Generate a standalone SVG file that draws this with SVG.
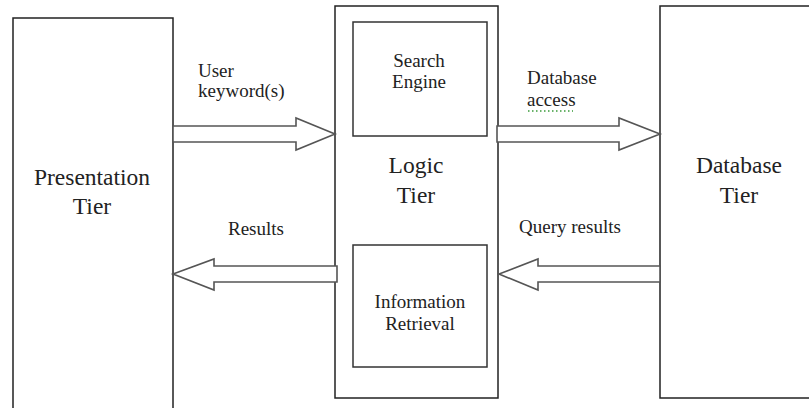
<svg xmlns="http://www.w3.org/2000/svg" width="809" height="408" viewBox="0 0 809 408">
<style>
.box{fill:#fff;stroke:#222;stroke-width:1.5}
.inner{fill:#fff;stroke:#333;stroke-width:1.5}
.arrow{fill:#fff;stroke:#555;stroke-width:1.6;stroke-linejoin:miter}
text{font-family:'Liberation Serif','DejaVu Serif',serif;fill:#222}
.big{font-size:23.5px;text-anchor:middle}
.sm{font-size:19px}
.smc{font-size:19px;text-anchor:middle}
</style>
<rect width="809" height="408" fill="#fff"/>
<g id="presentation">
<rect class="box" x="13" y="18" width="160" height="400"/>
<text class="big" x="92" y="185">Presentation</text>
<text class="big" x="92" y="214">Tier</text>
</g>
<g id="logic">
<rect class="box" x="335" y="6" width="163" height="392"/>
<text class="big" x="416" y="173">Logic</text>
<text class="big" x="416" y="203">Tier</text>
</g>
<g id="search-engine">
<rect class="inner" x="353" y="22" width="134" height="114"/>
<text class="smc" x="419" y="67">Search</text>
<text class="smc" x="419" y="88">Engine</text>
</g>
<g id="information-retrieval">
<rect class="inner" x="353" y="245" width="134" height="122"/>
<text class="smc" x="420" y="308">Information</text>
<text class="smc" x="420" y="330">Retrieval</text>
</g>
<g id="database">
<rect class="box" x="660" y="6" width="160" height="392"/>
<text class="big" x="739" y="173">Database</text>
<text class="big" x="739" y="203">Tier</text>
</g>
<g id="connectors">
<polygon class="arrow" points="173,126 296,126 296,118 335,134 296,150 296,142 173,142"/>
<polygon class="arrow" points="497,126 619,126 619,118 660,134 619,150 619,142 497,142"/>
<polygon class="arrow" points="337,266 214,266 214,259 173,274 214,290 214,282 337,282"/>
<polygon class="arrow" points="660,266 538,266 538,259 499,274 538,290 538,282 660,282"/>
<text class="sm" x="198" y="77">User</text>
<text class="sm" x="198" y="97">keyword(s)</text>
<text class="sm" x="527" y="84">Database</text>
<text class="sm" x="527" y="106">access</text>
<line x1="528" y1="111" x2="573" y2="111" stroke="#3a9a3a" stroke-width="1.5" stroke-dasharray="1.5 2.5"/>
<text class="sm" x="228" y="235">Results</text>
<text class="sm" x="519" y="233">Query results</text>
</g>
</svg>
